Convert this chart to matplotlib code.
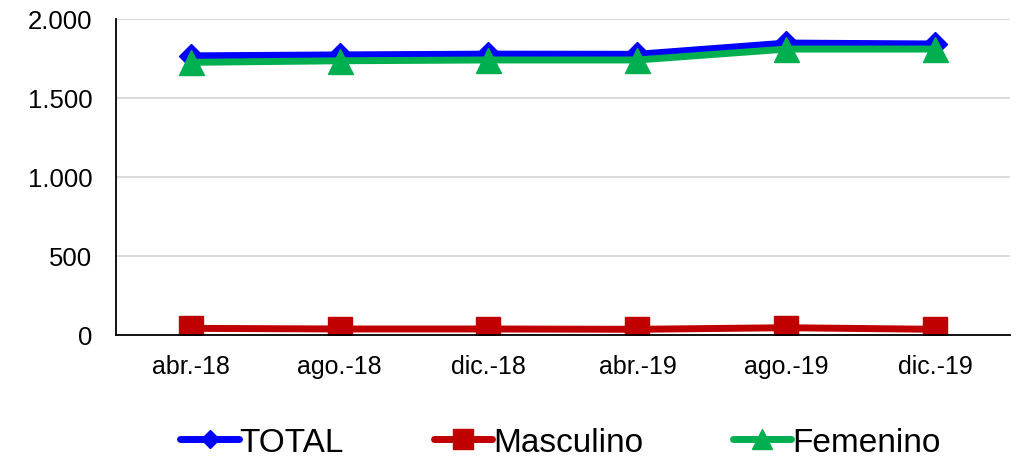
import matplotlib
matplotlib.use("Agg")
import matplotlib.pyplot as plt
from matplotlib.ticker import FuncFormatter, MultipleLocator

plt.rcParams['font.family'] = ['Liberation Sans', 'DejaVu Sans']

categories = ["abr.-18", "ago.-18", "dic.-18", "abr.-19", "ago.-19", "dic.-19"]
total = [1765, 1771, 1776, 1775, 1846, 1840]
masculino = [42, 38, 38, 36, 46, 36]
femenino = [1724, 1734, 1739, 1739, 1808, 1808]

fig = plt.figure(figsize=(10.17, 4.64), dpi=100)
ax = fig.add_axes([116/1017, 1-336/464, (1010-116)/1017, (336-19.7)/464])

x = list(range(len(categories)))
ax.plot(x, total, color="#0000FF", lw=5, marker="D", ms=12, label="TOTAL", solid_joinstyle="round", solid_capstyle="round")
ax.plot(x, masculino, color="#C00000", lw=5, marker="s", ms=17.5, label="Masculino", solid_capstyle="round")
ax.plot(x, femenino, color="#00B050", lw=5, marker="^", ms=18, label="Femenino", solid_capstyle="round")

ax.set_xlim(-0.5, len(categories) - 0.5)
ax.set_ylim(0, 2000)
ax.yaxis.set_major_locator(MultipleLocator(500))
ax.yaxis.set_major_formatter(FuncFormatter(lambda v, p: f"{int(v):,}".replace(",", ".")))
ax.set_xticks(x)
ax.set_xticklabels(categories)
ax.grid(axis="y", color="#D9D9D9", lw=1.3)
ax.set_axisbelow(True)
for s in ["top", "right"]:
    ax.spines[s].set_visible(False)
ax.spines["left"].set_color("black")
ax.spines["bottom"].set_color("black")
ax.spines["left"].set_linewidth(1.3)
ax.spines["bottom"].set_linewidth(1.3)
ax.tick_params(axis="y", length=0, pad=17, labelsize=18.5)
ax.tick_params(axis="x", length=0, pad=14, labelsize=18)

fig.legend(loc="center", bbox_to_anchor=(0.551, 0.045), ncol=3, frameon=False,
           fontsize=24, handlelength=1.75, handletextpad=0.02, columnspacing=2.7,
           markerscale=0.8)

fig.savefig("out.png", dpi=100)
